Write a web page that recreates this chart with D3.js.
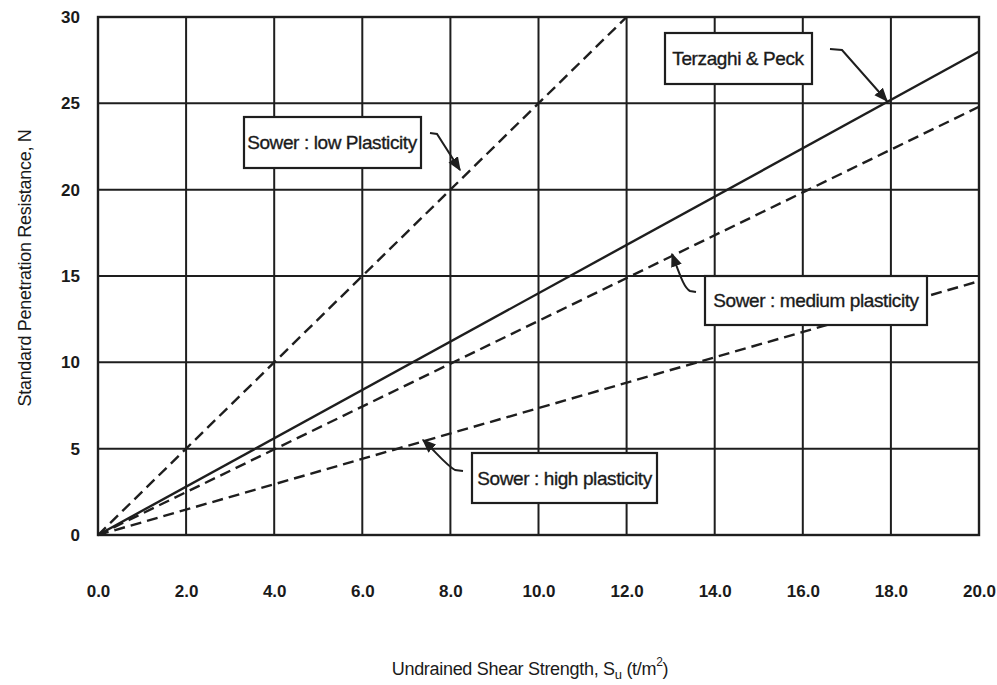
<!DOCTYPE html>
<html>
<head>
<meta charset="utf-8">
<script src="https://cdn.jsdelivr.net/npm/d3@7"></script>
<style>
  html, body { margin: 0; padding: 0; background: #fff; }
  svg { display: block; }
  text { font-family: "Liberation Sans", Arial, sans-serif; fill: #1a1a1a; }
</style>
</head>
<body>
<svg id="chart" width="997" height="685"></svg>
<script>
// Axis ticks
const xTicks = [0, 2, 4, 6, 8, 10, 12, 14, 16, 18, 20];
const yTicks = [0, 5, 10, 15, 20, 25, 30];

// Correlation lines: N against undrained shear strength Su (t/m²)
const terzaghiPeck = [[0, 0], [20, 28]];
const sowerLow = [[0, 0], [12, 30]];
const sowerMedium = [[0, 0], [20, 24.8]];
const sowerHigh = [[0, 0], [20, 14.7]];

const seriesNames = ["Terzaghi & Peck", "Sower : low Plasticity", "Sower : medium plasticity", "Sower : high plasticity"];

const svg = d3.select("#chart");
const m = { left: 98, right: 979, top: 17, bottom: 535 };
const ink = "#1e1e1e";

const x = d3.scaleLinear().domain([0, 20]).range([m.left, m.right]);
const y = d3.scaleLinear().domain([0, 30]).range([m.bottom, m.top]);

// Grid
const grid = svg.append("g");
grid.selectAll("line.v").data(xTicks).join("line")
  .attr("class", "v")
  .attr("x1", d => x(d)).attr("x2", d => x(d))
  .attr("y1", m.top).attr("y2", m.bottom)
  .attr("stroke", ink).attr("stroke-width", 2);
grid.selectAll("line.h").data(yTicks).join("line")
  .attr("class", "h")
  .attr("x1", m.left).attr("x2", m.right)
  .attr("y1", d => y(d)).attr("y2", d => y(d))
  .attr("stroke", ink).attr("stroke-width", 2);
grid.append("rect")
  .attr("x", m.left).attr("y", m.top)
  .attr("width", m.right - m.left).attr("height", m.bottom - m.top)
  .attr("fill", "none").attr("stroke", ink).attr("stroke-width", 2.4);

// Tick labels via axes (lines hidden, labels only)
const xAxis = svg.append("g")
  .attr("transform", `translate(0,${m.bottom})`)
  .call(d3.axisBottom(x).tickValues(xTicks).tickFormat(d3.format(".1f")).tickSize(0).tickPadding(50));
const yAxis = svg.append("g")
  .attr("transform", `translate(${m.left},0)`)
  .call(d3.axisLeft(y).tickValues(yTicks).tickFormat(d3.format("d")).tickSize(0).tickPadding(18));
[xAxis, yAxis].forEach(a => {
  a.select(".domain").remove();
  a.selectAll("text")
    .style("font-family", '"Liberation Sans", Arial, sans-serif')
    .style("font-size", "17px").style("font-weight", "bold").attr("fill", ink);
});

// Lines
const line = d3.line().x(d => x(d[0])).y(d => y(d[1]));
const series = [
  { pts: terzaghiPeck, dash: null },
  { pts: sowerLow, dash: "11,6" },
  { pts: sowerMedium, dash: "11,6" },
  { pts: sowerHigh, dash: "11,6" }
];
svg.append("g").selectAll("path").data(series).join("path")
  .attr("d", d => line(d.pts))
  .attr("fill", "none").attr("stroke", ink).attr("stroke-width", 2.4)
  .attr("stroke-dasharray", d => d.dash);

// Callout boxes with leader arrows
svg.append("defs").append("marker")
  .attr("id", "head").attr("viewBox", "0 0 10 10")
  .attr("refX", 9).attr("refY", 5)
  .attr("markerWidth", 7).attr("markerHeight", 7)
  .attr("orient", "auto-start-reverse")
  .append("path").attr("d", "M0,1 L10,5 L0,9 Z").attr("fill", ink);

const callouts = [
  { name: seriesNames[0], box: [665, 33, 147, 51], tx: 738, ty: 65,
    path: "M830,49 L842,50 L887,101" },
  { name: seriesNames[1], box: [244, 117, 177, 51], tx: 332, ty: 149,
    path: "M430,133 L437,134 L460,170" },
  { name: seriesNames[2], box: [705, 276, 222, 49], tx: 816, ty: 307,
    path: "M696,292 L690,291 C684,288 680,275 672,254" },
  { name: seriesNames[3], box: [472, 453, 185, 50], tx: 564.5, ty: 485,
    path: "M463,471 L455,470 C446,465 436,452 423,440" }
];

const cg = svg.append("g").selectAll("g").data(callouts).join("g");
cg.append("rect")
  .attr("x", d => d.box[0]).attr("y", d => d.box[1])
  .attr("width", d => d.box[2]).attr("height", d => d.box[3])
  .attr("fill", "#fff").attr("stroke", ink).attr("stroke-width", 2.2);
cg.append("text")
  .attr("x", d => d.tx).attr("y", d => d.ty)
  .attr("text-anchor", "middle")
  .style("font-size", "19px").style("letter-spacing", "-0.4px")
  .attr("stroke", ink).attr("stroke-width", 0.35)
  .text(d => d.name);
cg.append("path")
  .attr("d", d => d.path)
  .attr("fill", "none").attr("stroke", ink).attr("stroke-width", 2)
  .attr("marker-end", "url(#head)");

// Axis titles
const xt = svg.append("text")
  .attr("x", 530).attr("y", 675).attr("text-anchor", "middle")
  .style("font-size", "18px").style("letter-spacing", "-0.3px");
xt.append("tspan").text("Undrained Shear Strength, S");
xt.append("tspan").attr("dy", 4).style("font-size", "13px").text("u");
xt.append("tspan").attr("dy", -4).text(" (t/m");
xt.append("tspan").attr("dy", -9).style("font-size", "12px").text("2");
xt.append("tspan").attr("dy", 9).text(")");

svg.append("text")
  .attr("transform", "translate(31,268) rotate(-90)")
  .attr("text-anchor", "middle")
  .style("font-size", "18px").style("letter-spacing", "-0.3px")
  .text("Standard Penetration Resistance, N");
</script>
</body>
</html>
